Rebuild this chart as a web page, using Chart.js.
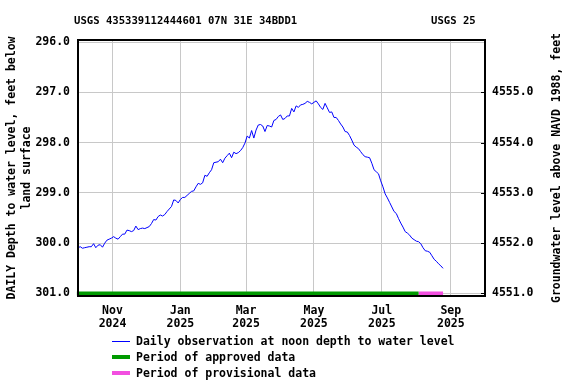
<!DOCTYPE html>
<html>
<head>
<meta charset="utf-8">
<script src="https://cdn.jsdelivr.net/npm/chart.js@4.4.1/dist/chart.umd.min.js"></script>
<style>
    html, body { margin: 0; padding: 0; background: #ffffff; }
</style>
</head>
<body>
<canvas id="gwChart" width="576" height="384"></canvas>
<script>
const siteTitle = "USGS 435339112444601 07N 31E 34BDD1";
const agencyTitle = "USGS 25";
const leftAxisTitle = ["DAILY Depth to water level, feet below", "land surface"];
const rightAxisTitle = "Groundwater level above NAVD 1988, feet";

// daily noon observations, read every second day starting at obsStartDate
const obsStartDate = "2024-10-01";
const obsStepDays = 2;
const depthValues = [
    300.09, 300.07, 300.10, 300.09, 300.08, 300.07, 300.07, 300.01, 300.09, 300.04,
    300.03, 300.08, 300.00, 299.94, 299.92, 299.90, 299.87, 299.90, 299.92, 299.87,
    299.82, 299.82, 299.74, 299.75, 299.77, 299.75, 299.66, 299.73, 299.71, 299.70,
    299.71, 299.69, 299.67, 299.61, 299.53, 299.54, 299.47, 299.44, 299.46, 299.43,
    299.37, 299.32, 299.27, 299.14, 299.15, 299.20, 299.13, 299.09, 299.09, 299.05,
    299.01, 298.97, 298.96, 298.88, 298.81, 298.83, 298.80, 298.65, 298.67, 298.60,
    298.54, 298.40, 298.39, 298.38, 298.33, 298.40, 298.31, 298.26, 298.21, 298.30,
    298.19, 298.22, 298.20, 298.16, 298.10, 298.01, 297.87, 297.91, 297.76, 297.91,
    297.75, 297.65, 297.64, 297.67, 297.78, 297.66, 297.67, 297.69, 297.56, 297.54,
    297.48, 297.45, 297.54, 297.52, 297.47, 297.47, 297.32, 297.39, 297.27, 297.30,
    297.25, 297.24, 297.22, 297.18, 297.20, 297.23, 297.20, 297.17, 297.23, 297.30,
    297.34, 297.22, 297.31, 297.40, 297.39, 297.50, 297.50, 297.56, 297.63, 297.69,
    297.78, 297.79, 297.86, 297.95, 298.05, 298.09, 298.12, 298.18, 298.24, 298.28,
    298.29, 298.30, 298.41, 298.54, 298.58, 298.62, 298.76, 298.88, 299.02, 299.10,
    299.19, 299.28, 299.37, 299.41, 299.51, 299.60, 299.68, 299.77, 299.80, 299.84,
    299.90, 299.93, 299.96, 299.97, 300.01, 300.09, 300.15, 300.16, 300.18, 300.25,
    300.32, 300.36, 300.41, 300.45, 300.50
];

const approvedPeriod = ["2024-09-30", "2025-08-03"];
const provisionalPeriod = ["2025-08-03", "2025-08-25"];
const periodBarDepth = 301.0;

const axisStartDate = "2024-10-01";
const axisEndDate = "2025-10-01";

const monthTickDates = ["2024-11-01", "2025-01-01", "2025-03-01", "2025-05-01", "2025-07-01", "2025-09-01"];
const monthTickLabels = [["Nov", "2024"], ["Jan", "2025"], ["Mar", "2025"], ["May", "2025"], ["Jul", "2025"], ["Sep", "2025"]];

const depthTicks = [296, 297, 298, 299, 300, 301];
const elevationTicks = [4551, 4552, 4553, 4554, 4555];
const datumOffset = 4852; // elevation = datumOffset - depth
const depthMin = 295.96;
const depthMax = 301.05;

const legendLabels = [
    "Daily observation at noon depth to water level",
    "Period of approved data",
    "Period of provisional data"
];

const lineColor = "#0000ff";
const approvedColor = "#009a00";
const provisionalColor = "#f24fe0";
const gridColor = "#c8c8c8";

const fontFamily = "'DejaVu Sans Mono', monospace";
const labelFont = { family: fontFamily, size: 11.5, weight: "bold", lineHeight: 1.11 };

function dayNumber(dateText) {
    return (Date.parse(dateText) - Date.parse(axisStartDate)) / 86400000;
}

const observationPoints = depthValues.map((value, index) => ({
    x: index * obsStepDays + dayNumber(obsStartDate),
    y: value,
}));

function periodPoints(period) {
    return [
        { x: dayNumber(period[0]), y: periodBarDepth },
        { x: dayNumber(period[1]), y: periodBarDepth },
    ];
}

const framePlugin = {
    id: "frame",
    afterDraw(chart) {
        const ctx = chart.ctx;
        const area = chart.chartArea;
        const rightScale = chart.scales.y2;

        ctx.save();
        ctx.strokeStyle = "#000000";
        ctx.lineWidth = 2;
        ctx.strokeRect(area.left, area.top, area.right - area.left, area.bottom - area.top);

        ctx.lineWidth = 1;
        elevationTicks.forEach(value => {
            const y = Math.round(rightScale.getPixelForValue(value)) + 0.5;
            ctx.beginPath();
            ctx.moveTo(area.right - 4, y);
            ctx.lineTo(area.right, y);
            ctx.stroke();
        });

        ctx.fillStyle = "#000000";
        ctx.textBaseline = "alphabetic";
        ctx.font = "bold 10.6px " + fontFamily;
        ctx.textAlign = "left";
        ctx.fillText(siteTitle, 74, 24);
        ctx.fillText(agencyTitle, 431, 24);

        ctx.font = "bold 11.5px " + fontFamily;
        ctx.translate(557, (area.top + area.bottom) / 2);
        ctx.rotate(-Math.PI / 2);
        ctx.textAlign = "center";
        ctx.textBaseline = "middle";
        ctx.fillText(rightAxisTitle, 0, 0);
        ctx.restore();

        // legend
        const legendColors = [lineColor, approvedColor, provisionalColor];
        const legendWidths = [1, 4, 4];
        ctx.save();
        ctx.font = "bold 11.5px " + fontFamily;
        ctx.textBaseline = "middle";
        ctx.textAlign = "left";
        legendLabels.forEach((label, i) => {
            const y = 341 + i * 16;
            ctx.strokeStyle = legendColors[i];
            ctx.lineWidth = legendWidths[i];
            ctx.beginPath();
            ctx.moveTo(112, legendWidths[i] === 1 ? y + 0.5 : y);
            ctx.lineTo(130, legendWidths[i] === 1 ? y + 0.5 : y);
            ctx.stroke();
            ctx.fillStyle = "#000000";
            ctx.fillText(label, 136, y + 1);
        });
        ctx.restore();
    },
};

new Chart(document.getElementById("gwChart"), {
    type: "line",
    data: {
        datasets: [
            {
                label: legendLabels[0],
                data: observationPoints,
                borderColor: lineColor,
                borderWidth: 1,
                pointRadius: 0,
                tension: 0,
                yAxisID: "y",
            },
            {
                label: legendLabels[1],
                data: periodPoints(approvedPeriod),
                borderColor: approvedColor,
                borderWidth: 4,
                borderCapStyle: "butt",
                pointRadius: 0,
                clip: false,
                yAxisID: "y",
            },
            {
                label: legendLabels[2],
                data: periodPoints(provisionalPeriod),
                borderColor: provisionalColor,
                borderWidth: 4,
                borderCapStyle: "butt",
                pointRadius: 0,
                clip: false,
                yAxisID: "y",
            },
        ],
    },
    options: {
        responsive: false,
        animation: false,
        events: [],
        layout: {
            padding: { top: 40, left: 0, right: 0, bottom: 0 },
        },
        plugins: {
            legend: { display: false },
            tooltip: { enabled: false },
            title: { display: false },
        },
        scales: {
            x: {
                type: "linear",
                min: dayNumber(axisStartDate),
                max: dayNumber(axisEndDate) + 0.7,
                grid: { color: gridColor, lineWidth: 1, drawTicks: false },
                border: { display: false },
                afterBuildTicks: axis => {
                    axis.ticks = monthTickDates.map(d => ({ value: dayNumber(d) }));
                },
                afterFit: scale => {
                    scale.height = 88;
                },
                ticks: {
                    autoSkip: false,
                    maxRotation: 0,
                    padding: 8.5,
                    color: "#000000",
                    font: labelFont,
                    callback: (value, index) => monthTickLabels[index],
                },
            },
            y: {
                type: "linear",
                position: "left",
                reverse: true,
                min: depthMin,
                max: depthMax,
                grid: { color: gridColor, lineWidth: 1, drawTicks: false },
                border: { display: false },
                afterBuildTicks: axis => {
                    axis.ticks = depthTicks.map(v => ({ value: v }));
                },
                afterFit: scale => {
                    scale.width = 78;
                },
                ticks: {
                    padding: 8,
                    color: "#000000",
                    font: labelFont,
                    callback: value => Number(value).toFixed(1),
                },
                title: {
                    display: true,
                    text: leftAxisTitle,
                    color: "#000000",
                    font: { family: fontFamily, size: 11.5, weight: "bold", lineHeight: 1.3 },
                    padding: { top: 4.5, bottom: 0 },
                },
            },
            y2: {
                type: "linear",
                position: "right",
                min: datumOffset - depthMax,
                max: datumOffset - depthMin,
                grid: { display: false, drawTicks: false },
                border: { display: false },
                afterBuildTicks: axis => {
                    axis.ticks = elevationTicks.map(v => ({ value: v }));
                },
                afterFit: scale => {
                    scale.width = 91;
                },
                ticks: {
                    padding: 7,
                    color: "#000000",
                    font: labelFont,
                    callback: value => Number(value).toFixed(1),
                },
            },
        },
    },
    plugins: [framePlugin],
});
</script>
</body>
</html>
